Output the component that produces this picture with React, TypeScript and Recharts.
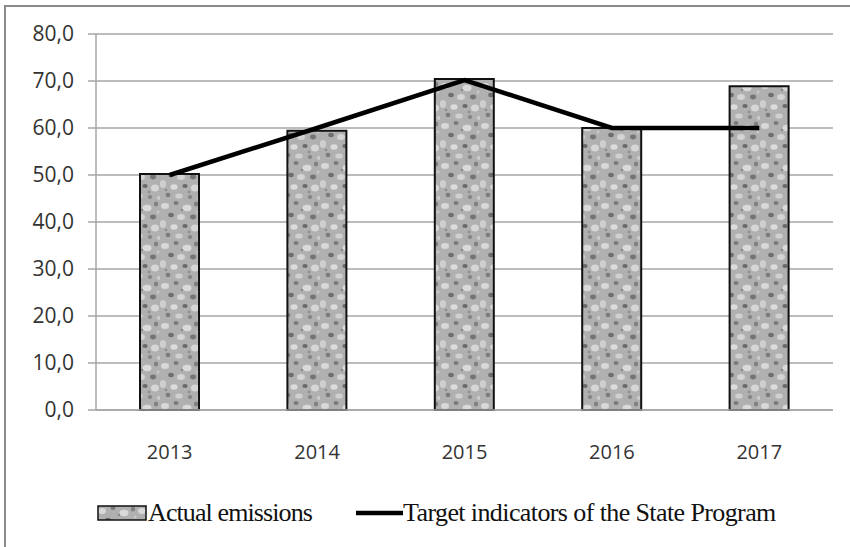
import React from "react";
import { ComposedChart, Bar, Line, XAxis, YAxis, CartesianGrid } from "recharts";

const years = ["2013", "2014", "2015", "2016", "2017"];
const actualEmissions = [50.2, 59.4, 70.4, 60.0, 68.9];
const targetIndicators = [50.0, 60.0, 70.2, 60.0, 60.0];
const yTicks = [0, 10, 20, 30, 40, 50, 60, 70, 80];
const seriesNames = ["Actual emissions", "Target indicators of the State Program"];

const data = years.map((year, i) => ({
  year,
  actual: actualEmissions[i],
  target: targetIndicators[i],
}));

const fmt = (v: number) => v.toFixed(1).replace(".", ",");

// speckled grey fill used for the bars
function Speckle({ id }: { id: string }) {
  return (
    <pattern id={id} width="40" height="40" patternUnits="userSpaceOnUse">
      <rect width="40" height="40" fill="#b0b0b0" />
      <ellipse cx="5" cy="6" rx="4" ry="3" fill="#d9d9d9" />
      <ellipse cx="16" cy="3" rx="2.5" ry="2" fill="#7a7a7a" />
      <ellipse cx="27" cy="8" rx="4.5" ry="3.2" fill="#dadada" />
      <ellipse cx="36" cy="4" rx="2.2" ry="2.6" fill="#808080" />
      <ellipse cx="11" cy="15" rx="2.8" ry="2.2" fill="#6e6e6e" />
      <ellipse cx="21" cy="17" rx="4" ry="3" fill="#d4d4d4" />
      <ellipse cx="33" cy="17" rx="3" ry="2.4" fill="#757575" />
      <ellipse cx="3" cy="24" rx="3.2" ry="4" fill="#cfcfcf" />
      <ellipse cx="14" cy="27" rx="3.6" ry="2.8" fill="#dcdcdc" />
      <ellipse cx="25" cy="26" rx="2.6" ry="2" fill="#6a6a6a" />
      <ellipse cx="35" cy="28" rx="4" ry="3.4" fill="#d6d6d6" />
      <ellipse cx="8" cy="35" rx="2.4" ry="2.2" fill="#7d7d7d" />
      <ellipse cx="19" cy="36" rx="3.8" ry="2.6" fill="#d0d0d0" />
      <ellipse cx="30" cy="37" rx="2.2" ry="2" fill="#858585" />
      <ellipse cx="39" cy="38" rx="2" ry="2" fill="#cccccc" />
      <circle cx="22" cy="10" r="1.3" fill="#8a8a8a" />
      <circle cx="6" cy="30" r="1.2" fill="#888888" />
      <circle cx="29" cy="32" r="1.4" fill="#909090" />
      <circle cx="38" cy="12" r="1.5" fill="#c8c8c8" />
    </pattern>
  );
}

export default function App() {
  return (
    <div style={{ position: "absolute", left: 0, top: 0, width: 850, height: 547, background: "#fff" }}>
      <div
        style={{
          position: "absolute",
          left: 4,
          top: 5,
          width: 846,
          height: 542,
          borderTop: "2px solid #8a8a8a",
          borderLeft: "2px solid #8a8a8a",
        }}
      />
      <ComposedChart
        width={850}
        height={547}
        data={data}
        margin={{ top: 34, right: 17, left: 0, bottom: 0 }}
        style={{ position: "absolute", left: 0, top: 0 }}
      >
        <defs>
          <Speckle id="speckle" />
        </defs>
        <CartesianGrid vertical={false} stroke="#a6a6a6" strokeWidth={1.5} />
        <XAxis
          dataKey="year"
          height={137}
          tickLine={false}
          axisLine={{ stroke: "#a6a6a6", strokeWidth: 1.5 }}
          tickMargin={29}
          tick={{ fontSize: 20, fill: "#333", fontFamily: "Open Sans" }}
        />
        <YAxis
          width={96}
          domain={[0, 80]}
          ticks={yTicks}
          tickFormatter={fmt}
          tickSize={8}
          tickMargin={14}
          tickLine={{ stroke: "#a6a6a6", strokeWidth: 1.5 }}
          axisLine={{ stroke: "#a6a6a6", strokeWidth: 1.5 }}
          tick={{ fontSize: 21, fill: "#333", fontFamily: "Open Sans" }}
        />
        <Bar
          dataKey="actual"
          name={seriesNames[0]}
          barSize={59}
          fill="url(#speckle)"
          stroke="#111"
          strokeWidth={2}
          isAnimationActive={false}
        />
        <Line
          dataKey="target"
          name={seriesNames[1]}
          type="linear"
          stroke="#000"
          strokeWidth={4.5}
          dot={false}
          activeDot={false}
          isAnimationActive={false}
        />
      </ComposedChart>
      <div
        style={{
          position: "absolute",
          left: 97,
          top: 498,
          display: "flex",
          alignItems: "center",
          fontFamily: "'Liberation Serif', serif",
          fontSize: 26,
          color: "#111",
          whiteSpace: "nowrap",
        }}
      >
        <svg width={50} height={16} style={{ marginRight: 1 }}>
          <defs>
            <Speckle id="speckle-legend" />
          </defs>
          <rect x={1} y={1} width={48} height={14} fill="url(#speckle-legend)" stroke="#111" strokeWidth={1.5} />
        </svg>
        <span style={{ letterSpacing: -0.9 }}>{seriesNames[0]}</span>
        <svg width={47} height={16} style={{ marginLeft: 44 }}>
          <line x1={0} y1={8} x2={47} y2={8} stroke="#000" strokeWidth={4.5} />
        </svg>
        <span style={{ letterSpacing: -0.6 }}>{seriesNames[1]}</span>
      </div>
    </div>
  );
}
